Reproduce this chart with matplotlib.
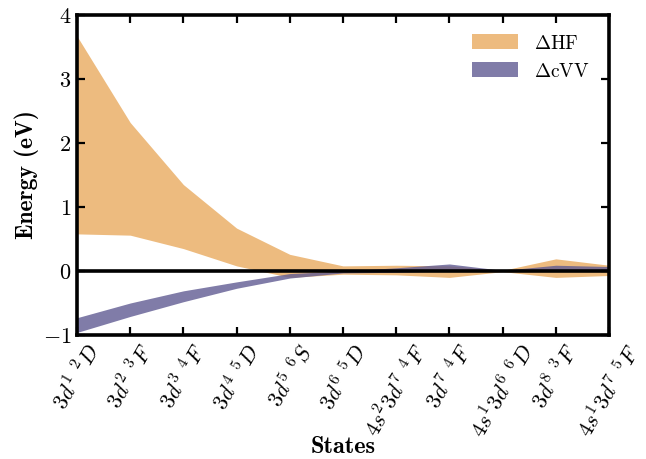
import matplotlib
matplotlib.use("Agg")
import matplotlib.pyplot as plt
import numpy as np

plt.rcParams['font.family'] = 'serif'
plt.rcParams['font.serif'] = ['cmr10', 'DejaVu Serif']
plt.rcParams['mathtext.fontset'] = 'cm'
plt.rcParams['axes.formatter.use_mathtext'] = True

states = [r'$3d^1\ {}^2D$', r'$3d^2\ {}^3F$', r'$3d^3\ {}^4F$', r'$3d^4\ {}^5D$',
          r'$3d^5\ {}^6S$', r'$3d^6\ {}^5D$', r'$4s^2 3d^7\ {}^4F$', r'$3d^7\ {}^4F$',
          r'$4s^1 3d^6\ {}^6D$', r'$3d^8\ {}^3F$', r'$4s^1 3d^7\ {}^5F$']

hf_upper = [3.67, 2.32, 1.35, 0.67, 0.26, 0.08, 0.09, 0.08, 0.01, 0.19, 0.09]
hf_lower = [0.58, 0.56, 0.35, 0.08, -0.10, -0.05, -0.06, -0.10, -0.01, -0.10, -0.07]
cvv_upper = [-0.73, -0.50, -0.31, -0.17, -0.04, 0.00, 0.05, 0.11, 0.01, 0.09, 0.07]
cvv_lower = [-0.96, -0.71, -0.48, -0.27, -0.11, -0.03, -0.02, 0.00, -0.01, 0.00, 0.00]

x = np.arange(len(states))

fig = plt.figure(figsize=(6.46, 4.59), dpi=100)
ax = fig.add_axes([77/646, 1-335/459, (609-77)/646, 320/459])

ax.fill_between(x, hf_lower, hf_upper, color='#EDBB7F', lw=0, label=r'$\Delta$HF')
ax.fill_between(x, cvv_lower, cvv_upper, color='#605B92', alpha=0.8, lw=0, label=r'$\Delta$cVV')
ax.axhline(0, color='black', lw=2.6)

ax.set_xlim(0, len(states) - 1)
ax.set_ylim(-1, 4)
ax.set_yticks([-1, 0, 1, 2, 3, 4])
ax.tick_params(direction='in', top=True, right=True, length=6, width=1.6)
ax.tick_params(axis='y', labelsize=16, pad=4)
ax.tick_params(axis='x', pad=4)
ax.set_xticks(x)
ax.set_xticklabels(states, rotation=60, ha='center', fontsize=16)

for s in ax.spines.values():
    s.set_linewidth(2.6)

ax.set_ylabel('Energy (eV)', fontfamily='cmb10', fontsize=17, va='center')
ax.yaxis.set_label_coords(-50/532, 0.5)
ax.set_xlabel('States', fontfamily='cmb10', fontsize=17.5, va='center')
ax.xaxis.set_label_coords(0.5, (335-447)/320)

ax.legend(loc='upper right', frameon=False, fontsize=14, handlelength=2.4,
          handleheight=0.8, borderaxespad=0.6)

fig.savefig('out.png', dpi=100)
